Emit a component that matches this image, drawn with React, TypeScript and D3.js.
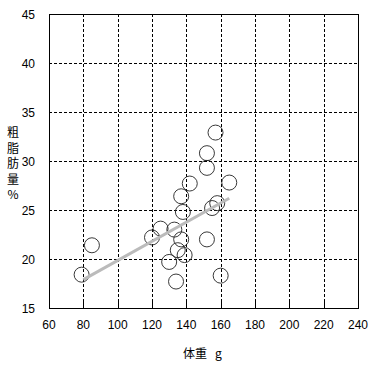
import React from "react";
import * as d3 from "d3";

const weightG = [79, 85, 120, 125, 133, 137, 135, 139, 130, 134, 152, 160, 138, 137, 142, 155, 158, 165, 152, 152, 157];
const fatPct = [18.4, 21.4, 22.2, 23.1, 23.0, 22.0, 20.9, 20.4, 19.7, 17.7, 22.0, 18.3, 24.8, 26.4, 27.7, 25.2, 25.7, 27.8, 29.3, 30.8, 32.9];
const trendX = [80, 165];
const trendY = [17.9, 26.2];
const xTicks = [60, 80, 100, 120, 140, 160, 180, 200, 220, 240];
const yTicks = [15, 20, 25, 30, 35, 40, 45];
const yLabelChars = ["粗", "脂", "肪", "量", "%"];
const xLabelMain = "体重";
const xLabelUnit = "g";

export default function App() {
  const W = 374, H = 369;
  const left = 49, right = 358, top = 14, bottom = 308;
  const x = d3.scaleLinear().domain([60, 240]).range([left, right]);
  const y = d3.scaleLinear().domain([15, 45]).range([bottom, top]);
  const font = "'Liberation Sans', Arial, sans-serif";
  const cjk = "'Noto Sans CJK JP', sans-serif";
  const line = d3.line<number>().x((_, i) => x(trendX[i])).y((_, i) => y(trendY[i]));
  return (
    <svg width={W} height={H} style={{ position: "absolute", left: 0, top: 0, background: "#fff" }}>
      <rect x={0} y={0} width={W} height={H} fill="#fff" />
      {xTicks.slice(1, -1).map((t) => (
        <line key={"gx" + t} x1={x(t) + 0.5} x2={x(t) + 0.5} y1={top} y2={bottom} stroke="#000" strokeDasharray="3,2" shapeRendering="crispEdges" />
      ))}
      {yTicks.slice(1, -1).map((t) => (
        <line key={"gy" + t} x1={left} x2={right} y1={y(t) + 0.5} y2={y(t) + 0.5} stroke="#000" strokeDasharray="3,2" shapeRendering="crispEdges" />
      ))}
      {xTicks.map((t) => (
        <line key={"tx" + t} x1={x(t) + 0.5} x2={x(t) + 0.5} y1={bottom - 7} y2={bottom} stroke="#000" shapeRendering="crispEdges" />
      ))}
      <rect x={left + 0.5} y={top + 0.5} width={right - left} height={bottom - top} fill="none" stroke="#000" shapeRendering="crispEdges" />
      {weightG.map((w, i) => (
        <circle key={"p" + i} cx={x(w)} cy={y(fatPct[i])} r={7.5} fill="none" stroke="#222" strokeWidth={0.9} />
      ))}
      <path d={line(trendX) || ""} fill="none" stroke="#bbb" strokeWidth={3} />
      {xTicks.map((t) => (
        <text key={"lx" + t} x={x(t)} y={329} textAnchor="middle" fontFamily={font} fontSize={12} fill="#000">{t}</text>
      ))}
      {yTicks.map((t) => (
        <text key={"ly" + t} x={35} y={y(t) + 4.5} textAnchor="end" fontFamily={font} fontSize={12} fill="#000">{t}</text>
      ))}
      {yLabelChars.map((c, i) => (
        <text key={"yl" + i} x={13} y={137 + i * 15.5} textAnchor="middle" fontFamily={cjk} fontSize={12} fill="#000">{c}</text>
      ))}
      <text y={358} fontFamily={cjk} fontSize={12} fill="#000">
        <tspan x={183}>{xLabelMain}</tspan>
        <tspan x={215}>{xLabelUnit}</tspan>
      </text>
    </svg>
  );
}
